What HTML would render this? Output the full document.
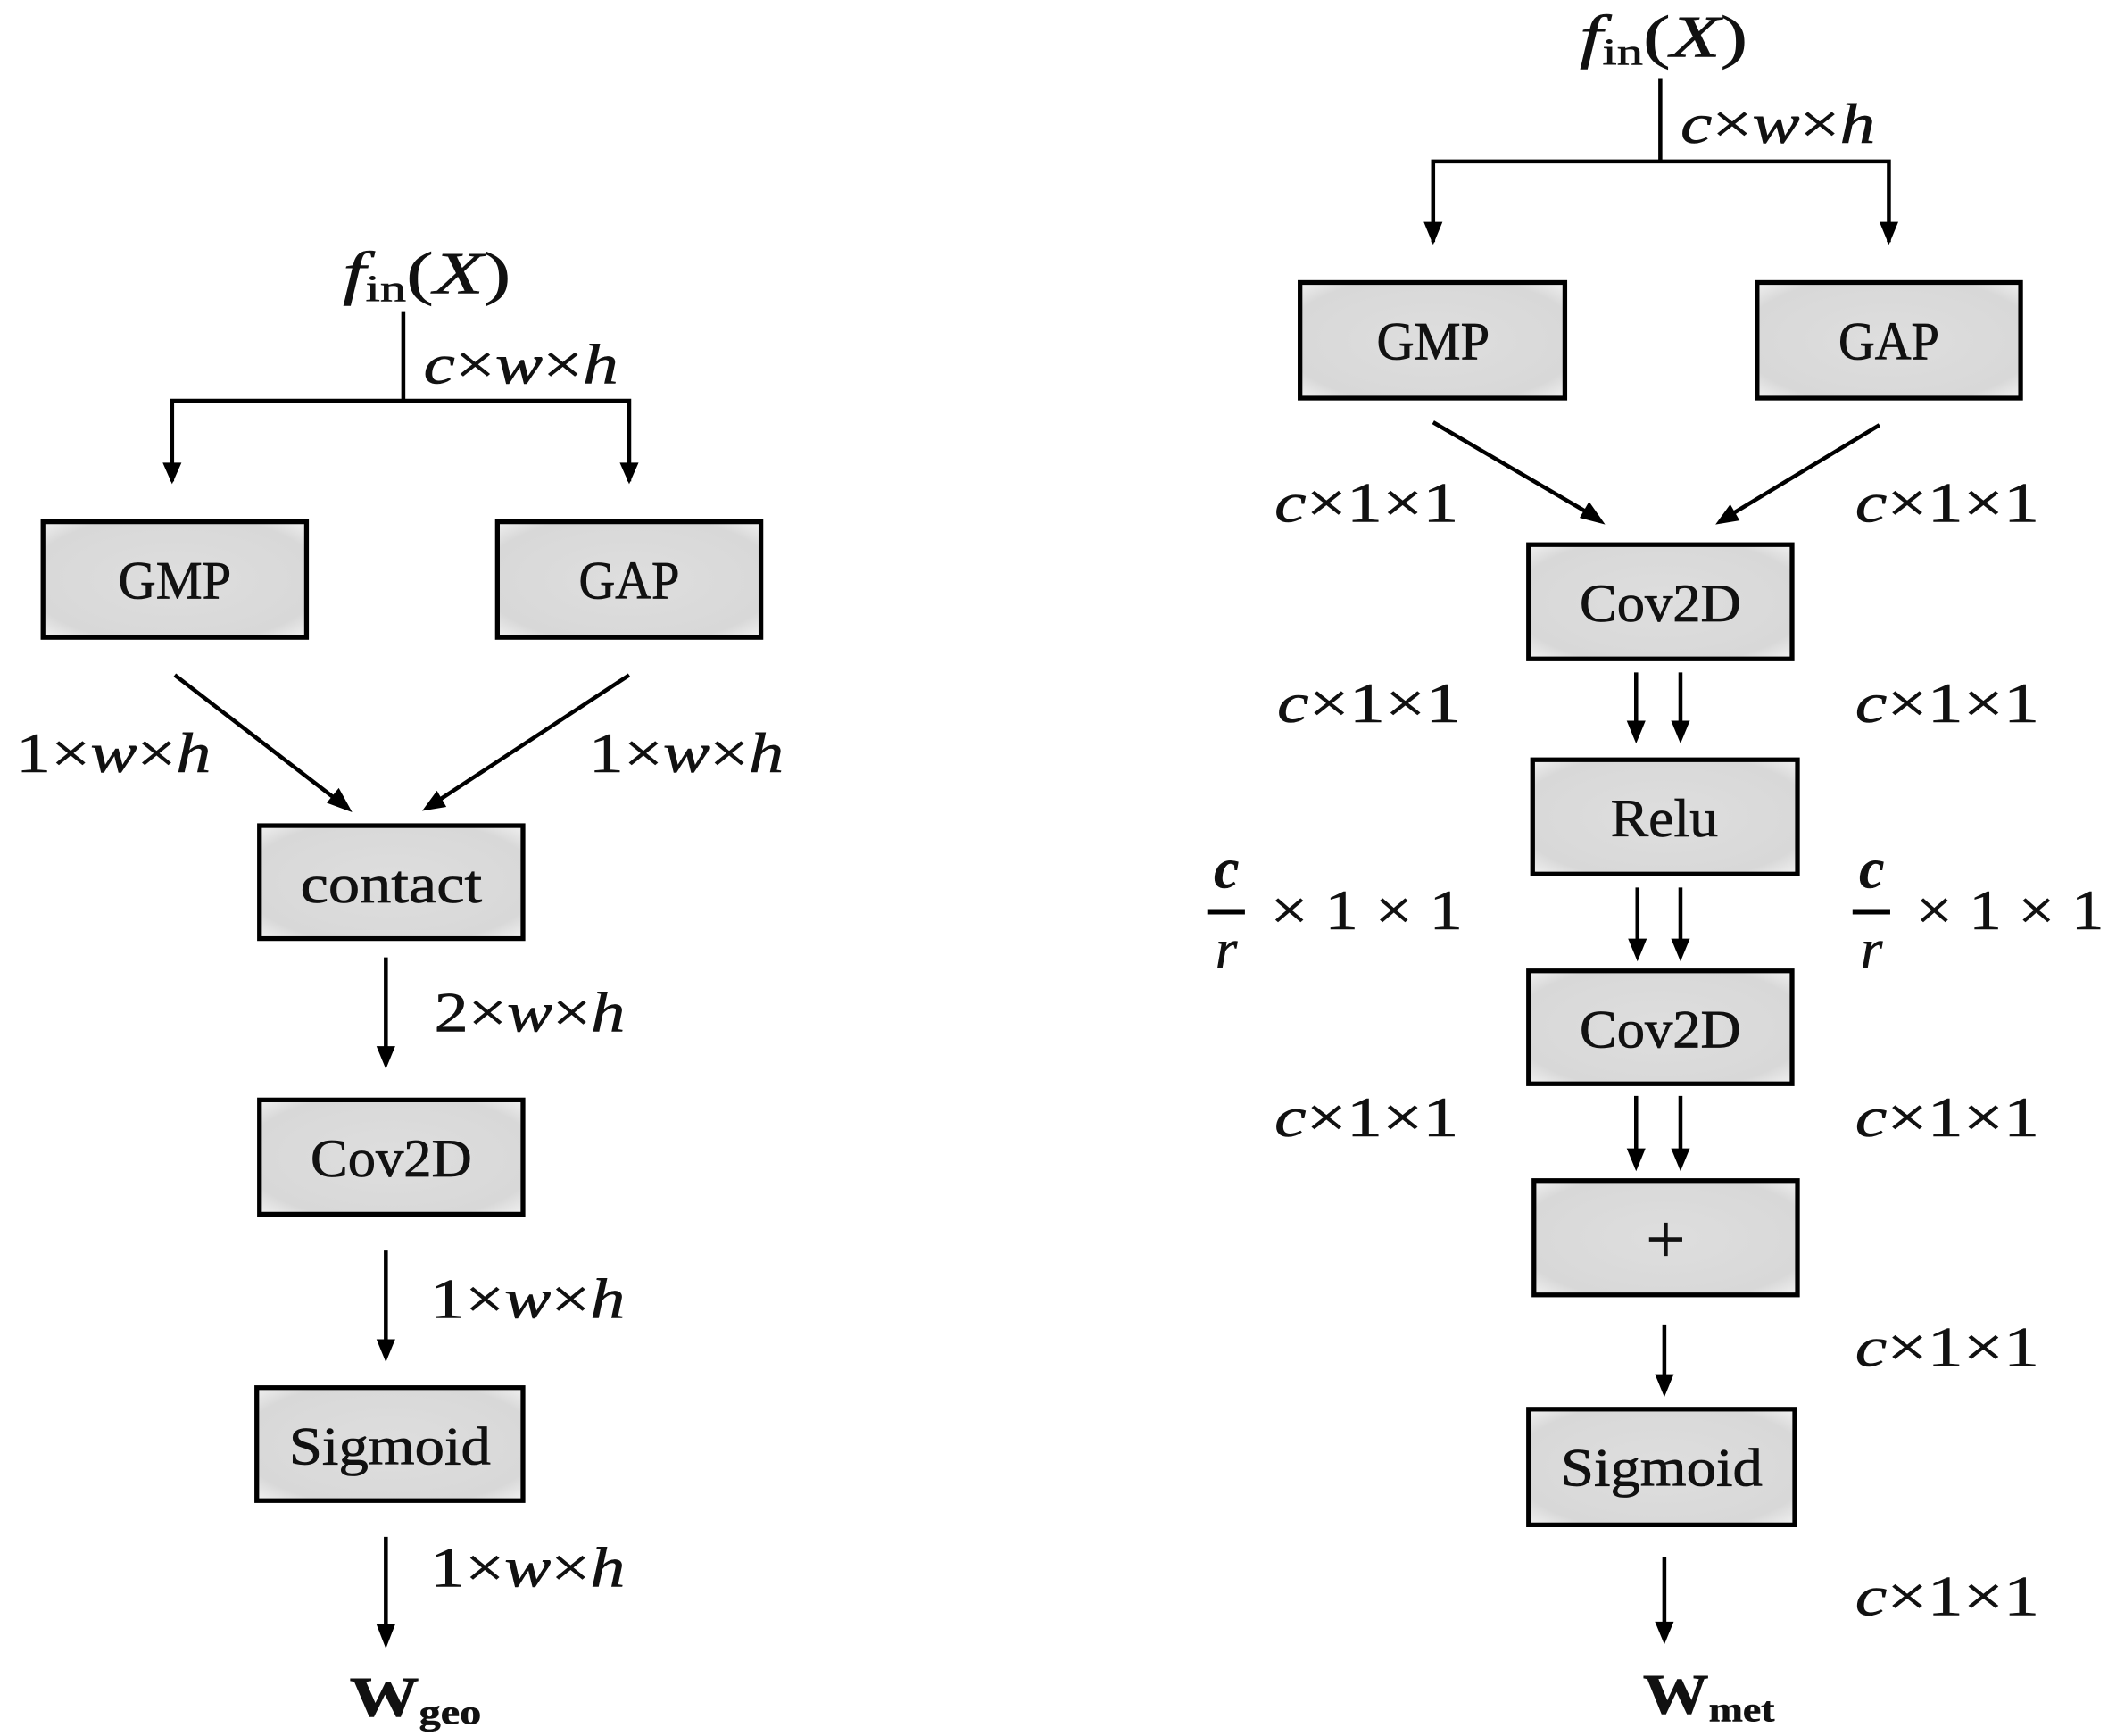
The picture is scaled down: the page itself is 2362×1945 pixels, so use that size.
<!DOCTYPE html>
<html><head><meta charset="utf-8"><style>
html,body{margin:0;padding:0;background:#fff;}
svg{display:block;}
.bx{fill:url(#g);stroke:#000;stroke-width:3.5;}
.bt{font-family:"Liberation Serif",serif;font-size:40px;text-anchor:middle;fill:#111;stroke:#111;stroke-width:0.5;}
.m{font-family:"Liberation Serif",serif;font-size:42px;fill:#111;stroke:#111;stroke-width:0.4;}
.i{font-style:italic;}
.ln{stroke:#000;stroke-width:3;fill:none;}
</style></head><body>
<svg width="2362" height="1945" viewBox="0 0 1568 1291" xmlns="http://www.w3.org/2000/svg">
<defs>
<radialGradient id="g" cx="50%" cy="50%" r="70%"><stop offset="0" stop-color="#dedede"/><stop offset="0.8" stop-color="#d8d8d8"/><stop offset="1" stop-color="#f0f0f0"/></radialGradient>
</defs>

<!-- LEFT -->
<text class="m" x="255" y="218" textLength="125" lengthAdjust="spacingAndGlyphs"><tspan class="i" font-size="44">f</tspan><tspan font-size="28" dy="6">in</tspan><tspan dy="-6" font-size="44">(</tspan><tspan class="i" font-size="44">X</tspan><tspan font-size="44">)</tspan></text>
<line class="ln" x1="300" y1="232" x2="300" y2="298"/>
<text class="m" x="315" y="285" textLength="145" lengthAdjust="spacingAndGlyphs"><tspan class="i">c</tspan>×<tspan class="i">w</tspan>×<tspan class="i">h</tspan></text>
<polyline class="ln" points="128,358 128,298 468,298 468,358"/>
<path d="M121,344 L128,360 L135,344 Z M461,344 L468,360 L475,344 Z"/>
<rect class="bx" x="32" y="388" width="196" height="86"/><text class="bt" x="130" y="445" textLength="84" lengthAdjust="spacingAndGlyphs">GMP</text>
<rect class="bx" x="370" y="388" width="196" height="86"/><text class="bt" x="468" y="445" textLength="75" lengthAdjust="spacingAndGlyphs">GAP</text>
<line class="ln" x1="130" y1="502" x2="252" y2="596"/><path d="M262,604 L243,597 L252,586 Z"/>
<line class="ln" x1="468" y1="502" x2="325" y2="596"/><path d="M314,603 L325,588 L332,600 Z"/>
<text class="m" x="12" y="574" textLength="145" lengthAdjust="spacingAndGlyphs">1×<tspan class="i">w</tspan>×<tspan class="i">h</tspan></text>
<text class="m" x="438" y="574" textLength="145" lengthAdjust="spacingAndGlyphs">1×<tspan class="i">w</tspan>×<tspan class="i">h</tspan></text>
<rect class="bx" x="193" y="614" width="196" height="84"/><text class="bt" x="291" y="671" textLength="135" lengthAdjust="spacingAndGlyphs">contact</text>
<line class="ln" x1="287" y1="712" x2="287" y2="790"/><path d="M280,778 L287,795 L294,778 Z"/>
<text class="m" x="323" y="767" textLength="142" lengthAdjust="spacingAndGlyphs">2×<tspan class="i">w</tspan>×<tspan class="i">h</tspan></text>
<rect class="bx" x="193" y="818" width="196" height="85"/><text class="bt" x="291" y="875" textLength="120" lengthAdjust="spacingAndGlyphs">Cov2D</text>
<line class="ln" x1="287" y1="930" x2="287" y2="1008"/><path d="M280,996 L287,1013 L294,996 Z"/>
<text class="m" x="320" y="980" textLength="145" lengthAdjust="spacingAndGlyphs">1×<tspan class="i">w</tspan>×<tspan class="i">h</tspan></text>
<rect class="bx" x="191" y="1032" width="198" height="84"/><text class="bt" x="290" y="1089" textLength="150" lengthAdjust="spacingAndGlyphs">Sigmoid</text>
<line class="ln" x1="287" y1="1143" x2="287" y2="1220"/><path d="M280,1208 L287,1226 L294,1208 Z"/>
<text class="m" x="320" y="1180" textLength="145" lengthAdjust="spacingAndGlyphs">1×<tspan class="i">w</tspan>×<tspan class="i">h</tspan></text>
<text class="m" x="260" y="1276" font-weight="bold" font-size="42" textLength="98" lengthAdjust="spacingAndGlyphs">W<tspan font-size="26" dy="6">geo</tspan></text>

<!-- RIGHT -->
<text class="m" x="1175" y="42" textLength="125" lengthAdjust="spacingAndGlyphs"><tspan class="i" font-size="44">f</tspan><tspan font-size="28" dy="6">in</tspan><tspan dy="-6" font-size="44">(</tspan><tspan class="i" font-size="44">X</tspan><tspan font-size="44">)</tspan></text>
<line class="ln" x1="1235" y1="58" x2="1235" y2="120"/>
<text class="m" x="1250" y="106" textLength="145" lengthAdjust="spacingAndGlyphs"><tspan class="i">c</tspan>×<tspan class="i">w</tspan>×<tspan class="i">h</tspan></text>
<polyline class="ln" points="1066,180 1066,120 1405,120 1405,180"/>
<path d="M1059,165 L1066,182 L1073,165 Z M1398,165 L1405,182 L1412,165 Z"/>
<rect class="bx" x="967" y="210" width="197" height="86"/><text class="bt" x="1066" y="267" textLength="84" lengthAdjust="spacingAndGlyphs">GMP</text>
<rect class="bx" x="1307" y="210" width="196" height="86"/><text class="bt" x="1405" y="267" textLength="75" lengthAdjust="spacingAndGlyphs">GAP</text>
<line class="ln" x1="1066" y1="314" x2="1184" y2="383"/><path d="M1194,390 L1175,385 L1182,373 Z"/>
<line class="ln" x1="1398" y1="316" x2="1287" y2="383"/><path d="M1276,390 L1287,375 L1294,387 Z"/>
<text class="m" x="948" y="388" textLength="137" lengthAdjust="spacingAndGlyphs"><tspan class="i">c</tspan>×1×1</text>
<text class="m" x="1380" y="388" textLength="137" lengthAdjust="spacingAndGlyphs"><tspan class="i">c</tspan>×1×1</text>
<rect class="bx" x="1137" y="405" width="196" height="85"/><text class="bt" x="1235" y="462" textLength="120" lengthAdjust="spacingAndGlyphs">Cov2D</text>
<line class="ln" x1="1217" y1="500" x2="1217" y2="548"/><path d="M1210,536 L1217,553 L1224,536 Z"/>
<line class="ln" x1="1250" y1="500" x2="1250" y2="548"/><path d="M1243,536 L1250,553 L1257,536 Z"/>
<text class="m" x="950" y="537" textLength="137" lengthAdjust="spacingAndGlyphs"><tspan class="i">c</tspan>×1×1</text>
<text class="m" x="1380" y="537" textLength="137" lengthAdjust="spacingAndGlyphs"><tspan class="i">c</tspan>×1×1</text>
<rect class="bx" x="1140" y="565" width="197" height="85"/><text class="bt" x="1238" y="622" textLength="80" lengthAdjust="spacingAndGlyphs">Relu</text>
<line class="ln" x1="1218" y1="660" x2="1218" y2="710"/><path d="M1211,698 L1218,715 L1225,698 Z"/>
<line class="ln" x1="1250" y1="660" x2="1250" y2="710"/><path d="M1243,698 L1250,715 L1257,698 Z"/>
<text class="m i" x="903" y="660" font-weight="bold" font-size="36">c</text><line x1="898" y1="678" x2="926" y2="678" stroke="#000" stroke-width="4"/><text class="m i" x="904" y="720" font-size="36">r</text>
<text class="m" x="945" y="691" textLength="143" lengthAdjust="spacingAndGlyphs">× 1 × 1</text>
<text class="m i" x="1383" y="660" font-weight="bold" font-size="36">c</text><line x1="1378" y1="678" x2="1406" y2="678" stroke="#000" stroke-width="4"/><text class="m i" x="1384" y="720" font-size="36">r</text>
<text class="m" x="1425" y="691" textLength="140" lengthAdjust="spacingAndGlyphs">× 1 × 1</text>
<rect class="bx" x="1137" y="722" width="196" height="84"/><text class="bt" x="1235" y="779" textLength="120" lengthAdjust="spacingAndGlyphs">Cov2D</text>
<line class="ln" x1="1217" y1="815" x2="1217" y2="866"/><path d="M1210,854 L1217,871 L1224,854 Z"/>
<line class="ln" x1="1250" y1="815" x2="1250" y2="866"/><path d="M1243,854 L1250,871 L1257,854 Z"/>
<text class="m" x="948" y="845" textLength="137" lengthAdjust="spacingAndGlyphs"><tspan class="i">c</tspan>×1×1</text>
<text class="m" x="1380" y="845" textLength="137" lengthAdjust="spacingAndGlyphs"><tspan class="i">c</tspan>×1×1</text>
<rect class="bx" x="1141" y="878" width="196" height="85"/><text class="bt" x="1239" y="939" style="font-size:52px">+</text>
<line class="ln" x1="1238" y1="985" x2="1238" y2="1034"/><path d="M1231,1022 L1238,1039 L1245,1022 Z"/>
<text class="m" x="1380" y="1016" textLength="137" lengthAdjust="spacingAndGlyphs"><tspan class="i">c</tspan>×1×1</text>
<rect class="bx" x="1137" y="1048" width="198" height="86"/><text class="bt" x="1236" y="1105" textLength="150" lengthAdjust="spacingAndGlyphs">Sigmoid</text>
<line class="ln" x1="1238" y1="1158" x2="1238" y2="1218"/><path d="M1231,1206 L1238,1223 L1245,1206 Z"/>
<text class="m" x="1380" y="1201" textLength="137" lengthAdjust="spacingAndGlyphs"><tspan class="i">c</tspan>×1×1</text>
<text class="m" x="1222" y="1274" font-weight="bold" font-size="42" textLength="98" lengthAdjust="spacingAndGlyphs">W<tspan font-size="26" dy="6">met</tspan></text>
</svg>
</body></html>
